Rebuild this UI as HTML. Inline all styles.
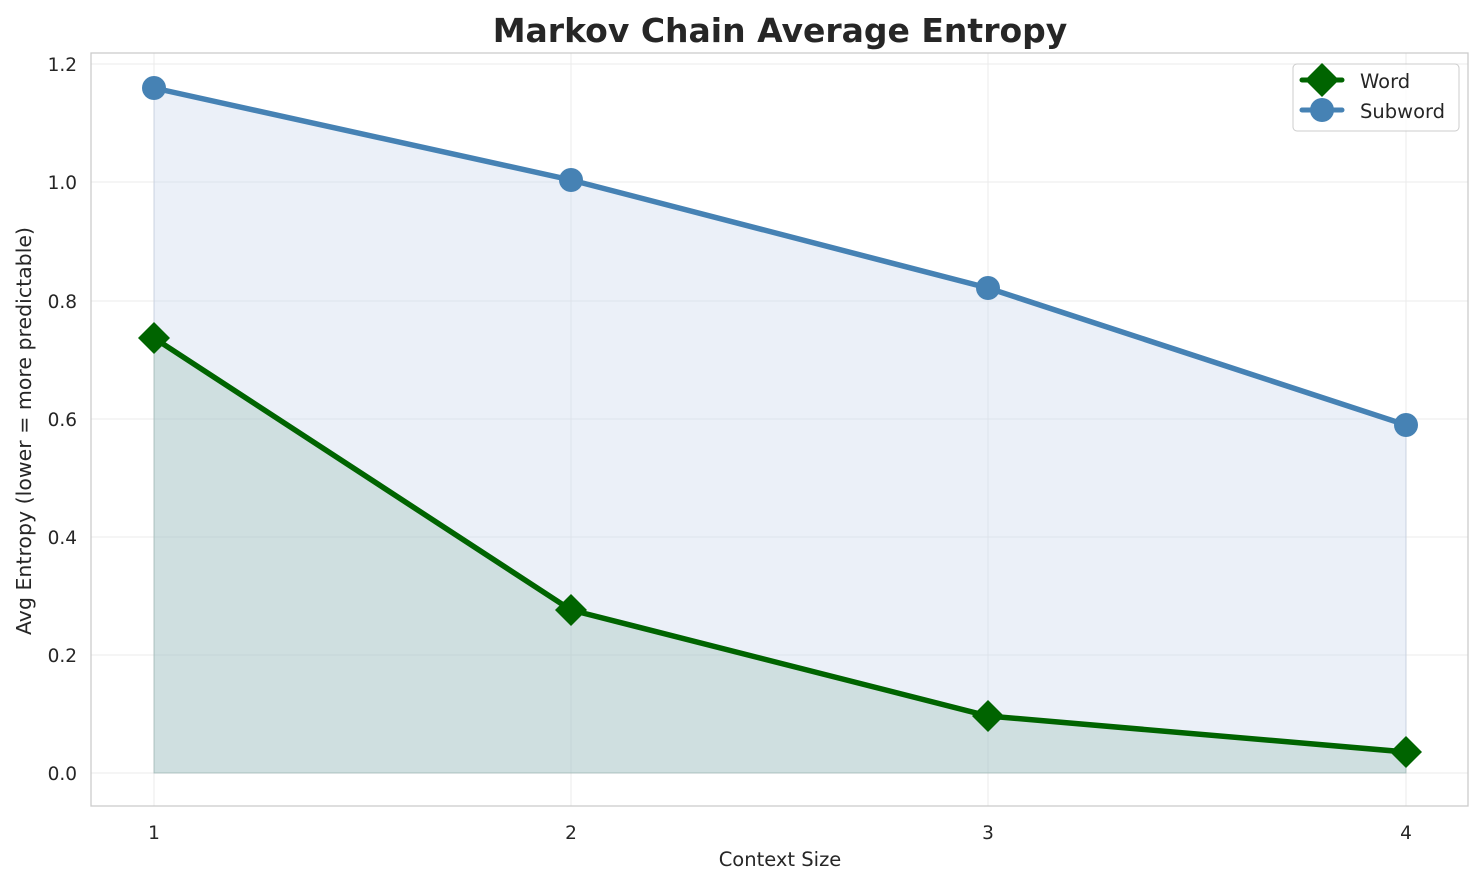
<!DOCTYPE html>
<html><head><meta charset="utf-8"><style>body{margin:0;background:#fff}svg{display:block;font-family:"DejaVu Sans","Liberation Sans",sans-serif}</style></head>
<body>
<svg width="1484" height="885" viewBox="0 0 1484 885">
<rect width="1484" height="885" fill="#fff"/>
<g stroke="#ebebeb" stroke-width="1">
<line x1="154" y1="53" x2="154" y2="806"/><line x1="571" y1="53" x2="571" y2="806"/><line x1="988" y1="53" x2="988" y2="806"/><line x1="1406" y1="53" x2="1406" y2="806"/>
<line x1="91" y1="773" x2="1468" y2="773"/><line x1="91" y1="655" x2="1468" y2="655"/><line x1="91" y1="537" x2="1468" y2="537"/><line x1="91" y1="419" x2="1468" y2="419"/><line x1="91" y1="301" x2="1468" y2="301"/><line x1="91" y1="182" x2="1468" y2="182"/><line x1="91" y1="64" x2="1468" y2="64"/>
</g>
<polygon points="154,88 571,180 988,288 1406,425 1406,773 154,773" fill="#c6d5ec" fill-opacity="0.35" stroke="#b0bfd6" stroke-opacity="0.5"/>
<polygon points="154,338 571,610 988,716 1406,752 1406,773 154,773" fill="#8fb8a8" fill-opacity="0.3" stroke="#8faa9a" stroke-opacity="0.4"/>
<polyline points="154,88 571,180 988,288 1406,425" fill="none" stroke="#4682b4" stroke-width="5.5"/>
<g fill="#4682b4"><circle cx="154" cy="88" r="12"/><circle cx="571" cy="180" r="12"/><circle cx="988" cy="288" r="12"/><circle cx="1406" cy="425" r="12"/></g>
<polyline points="154,338 571,610 988,716 1406,752" fill="none" stroke="#006400" stroke-width="5.5"/>
<g fill="#006400"><path d="M154 322l16 16-16 16-16-16z"/><path d="M571 594l16 16-16 16-16-16z"/><path d="M988 700l16 16-16 16-16-16z"/><path d="M1406 736l16 16-16 16-16-16z"/></g>
<rect x="91" y="53" width="1377" height="753" fill="none" stroke="#ccc" stroke-width="1.3"/>
<g font-size="18.5" fill="#262626" text-anchor="middle">
<text x="154" y="839">1</text><text x="571" y="839">2</text><text x="988" y="839">3</text><text x="1406" y="839">4</text>
</g>
<g font-size="18.5" fill="#262626" text-anchor="end">
<text x="77" y="780">0.0</text><text x="77" y="662">0.2</text><text x="77" y="544">0.4</text><text x="77" y="426">0.6</text><text x="77" y="308">0.8</text><text x="77" y="189">1.0</text><text x="77" y="71">1.2</text>
</g>
<text x="780" y="866" font-size="19.5" fill="#262626" text-anchor="middle">Context Size</text>
<text transform="translate(31,431) rotate(-90)" font-size="20.5" fill="#262626" text-anchor="middle">Avg Entropy (lower = more predictable)</text>
<text x="780" y="42" font-size="33" font-weight="bold" fill="#262626" text-anchor="middle">Markov Chain Average Entropy</text>
<rect x="1293" y="64" width="166" height="67" rx="4" fill="#fff" fill-opacity="0.8" stroke="#ccc"/>
<line x1="1302" y1="80" x2="1342" y2="80" stroke="#006400" stroke-width="5" stroke-linecap="round"/>
<path d="M1322 63l17 17-17 17-17-17z" fill="#006400"/>
<line x1="1302" y1="110" x2="1342" y2="110" stroke="#4682b4" stroke-width="5" stroke-linecap="round"/>
<circle cx="1322" cy="110" r="12" fill="#4682b4"/>
<text x="1360" y="88" font-size="19.5" fill="#262626">Word</text>
<text x="1360" y="118" font-size="19.5" fill="#262626">Subword</text>
</svg>
</body></html>
